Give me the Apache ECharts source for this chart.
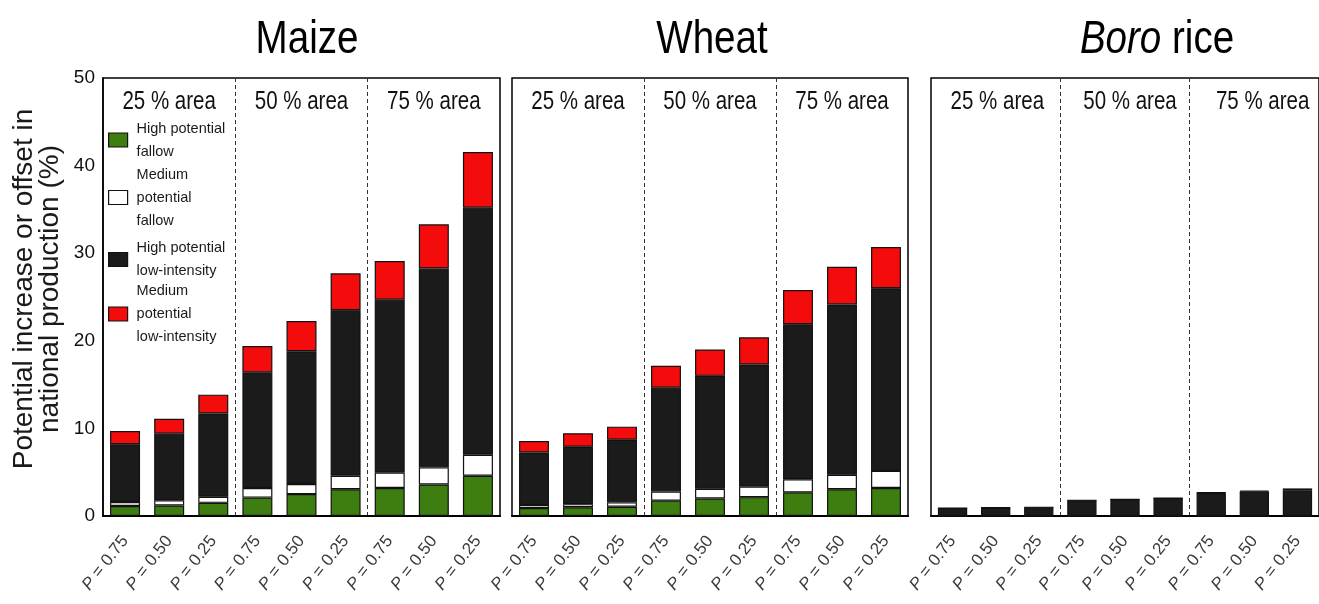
<!DOCTYPE html>
<html>
<head>
<meta charset="utf-8">
<script src="https://cdn.jsdelivr.net/npm/echarts@6/dist/echarts.min.js"></script>
<style>
  html, body { margin: 0; padding: 0; background: #fff; }
  #chart { width: 1319px; height: 604px; }
</style>
</head>
<body>
<div id="chart"></div>
<script>
// ---- data ----
const crops = ['Maize', 'Wheat', 'Boro rice'];
const areaLabels = ['25 % area', '50 % area', '75 % area'];
const pLabels = ['P = 0.75', 'P = 0.50', 'P = 0.25',
                 'P = 0.75', 'P = 0.50', 'P = 0.25',
                 'P = 0.75', 'P = 0.50', 'P = 0.25'];
const layerNames = [
  'High potential\nfallow',
  'Medium\npotential\nfallow',
  'High potential\nlow-intensity',
  'Medium\npotential\nlow-intensity'
];
const yMin = 0, yMax = 50, yStep = 10;

// contribution of each land class (% of national production)
const maizeHighFallow        = [1.15, 1.2, 1.5, 2.1, 2.5, 3.05, 3.2, 3.6, 4.6];
const maizeMediumFallow      = [0.45, 0.6, 0.7, 1.1, 1.15, 1.55, 1.75, 1.95, 2.4];
const maizeHighLowIntensity  = [6.6, 7.6, 9.5, 13.2, 15.15, 18.9, 19.75, 22.7, 28.2];
const maizeMediumLowIntensity= [1.5, 1.7, 2.15, 3.0, 3.45, 4.2, 4.4, 5.05, 6.35];

const wheatHighFallow        = [0.9, 1.0, 1.05, 1.75, 2.0, 2.15, 2.7, 3.05, 3.2];
const wheatMediumFallow      = [0.35, 0.35, 0.5, 1.05, 1.1, 1.2, 1.5, 1.65, 1.95];
const wheatHighLowIntensity  = [6.0, 6.55, 7.15, 11.85, 12.9, 13.95, 17.7, 19.45, 20.85];
const wheatMediumLowIntensity= [1.3, 1.55, 1.5, 2.5, 3.0, 3.1, 3.9, 4.3, 4.7];

const boroHighFallow         = [0, 0, 0, 0, 0, 0, 0, 0, 0];
const boroMediumFallow       = [0, 0, 0, 0, 0, 0, 0, 0, 0];
const boroHighLowIntensity   = [0.9, 0.95, 1.0, 1.8, 1.9, 2.05, 2.65, 2.8, 2.95];
const boroMediumLowIntensity = [0, 0, 0, 0, 0, 0, 0.05, 0.1, 0.2];

const cropLayers = [
  [maizeHighFallow, maizeMediumFallow, maizeHighLowIntensity, maizeMediumLowIntensity],
  [wheatHighFallow, wheatMediumFallow, wheatHighLowIntensity, wheatMediumLowIntensity],
  [boroHighFallow, boroMediumFallow, boroHighLowIntensity, boroMediumLowIntensity]
];

// ---- styling ----
const SANS = '"Liberation Sans", Arial, Helvetica, sans-serif';
const CONDENSE = 0.82;   // horizontal squeeze for the narrow-looking headings
const layerColors = ['#3e7d10', '#ffffff', '#1b1b1b', '#f40c0c'];

const panels = [
  { left: 103, top: 78, width: 397, height: 438 },
  { left: 512, top: 78, width: 396, height: 438 },
  { left: 931, top: 78, width: 398, height: 438 }
];

const grid = panels.map(p => ({
  left: p.left, top: p.top, width: p.width, height: p.height,
  show: true, borderColor: '#000', borderWidth: 1.5, backgroundColor: 'transparent',
  containLabel: false
}));

const xAxis = [];
panels.forEach((p, i) => {
  xAxis.push({
    type: 'category', gridIndex: i, data: pLabels, position: 'bottom',
    axisLine: { show: true, lineStyle: { color: '#000', width: 2 } },
    axisTick: { show: false },
    splitLine: { show: false },
    axisLabel: {
      interval: 0, rotate: 52, margin: 22,
      fontSize: 17, fontFamily: SANS, color: '#3a3a3a',
      formatter: v => '{i|P}' + v.slice(1),
      rich: { i: { fontStyle: 'italic', fontSize: 17, fontFamily: SANS, color: '#3a3a3a' } }
    }
  });
});
// top category axes split each panel into the three area shares
panels.forEach((p, i) => {
  xAxis.push({
    type: 'category', gridIndex: i, data: areaLabels, position: 'top',
    axisLine: { show: false },
    axisTick: { show: false },
    axisLabel: { show: false },
    splitLine: {
      show: true, showMinLine: false, showMaxLine: false,
      lineStyle: { color: '#333', width: 1, type: [4, 3] }
    }
  });
});

const yAxis = panels.map((p, i) => ({
  type: 'value', gridIndex: i, min: yMin, max: yMax, interval: yStep,
  axisLine: { show: i === 0, lineStyle: { color: '#000', width: 1.5 } },
  axisTick: { show: false },
  splitLine: { show: false },
  axisLabel: { show: i === 0, margin: 8, fontSize: 19, fontFamily: SANS, color: '#111' },
  name: i === 0 ? 'Potential increase or offset in\nnational production (%)' : '',
  nameLocation: 'middle', nameGap: 40, nameRotate: 90,
  nameTextStyle: {
    fontSize: 28, lineHeight: 26, fontFamily: SANS, color: '#1a1a1a',
    padding: [0, 0, 0, 16]
  }
}));

const series = [];
cropLayers.forEach((layers, ci) => {
  layers.forEach((vals, li) => {
    series.push({
      type: 'bar', name: layerNames[li],
      xAxisIndex: ci, yAxisIndex: ci, stack: 'crop' + ci,
      barWidth: '68%',
      data: vals,
      itemStyle: { color: layerColors[li], borderColor: '#111', borderWidth: 1.2 },
      emphasis: { disabled: true }
    });
  });
});

// one legend block per class so each can sit at its own height
const legendCenters = [140, 197.5, 259.5, 314];
const LINE = 23;
const legend = layerNames.map((name, k) => {
  const n = name.split('\n').length;
  return {
    data: [name], orient: 'vertical', left: 108,
    top: legendCenters[k] - (2 * n - 1) * LINE / 2,
    padding: 0, itemWidth: 19, itemHeight: 14, itemGap: 0,
    icon: 'rect', selectedMode: false,
    itemStyle: { borderColor: '#111', borderWidth: 1.2 },
    textStyle: {
      fontSize: 14.5, lineHeight: LINE, fontFamily: SANS, color: '#1a1a1a',
      padding: [(n - 1) * LINE, 0, 0, 4]
    }
  };
});

// panel headings and the area-share captions
const titleCenters = [307, 712, 1157];
const graphic = [];
crops.forEach((c, i) => {
  graphic.push({
    type: 'text', x: titleCenters[i], y: 40, scaleX: CONDENSE,
    style: {
      text: c === 'Boro rice' ? '{i|Boro} rice' : c,
      fontSize: 47, fontFamily: SANS, fill: '#000',
      align: 'center', verticalAlign: 'middle',
      rich: {
        i: { fontSize: 47, fontFamily: SANS, fontStyle: 'italic', fill: '#000' }
      }
    }
  });
});
panels.forEach(p => {
  areaLabels.forEach((a, k) => {
    graphic.push({
      type: 'text', x: p.left + p.width * (2 * k + 1) / 6, y: 102, scaleX: CONDENSE,
      style: {
        text: a, fontSize: 25, fontFamily: SANS, fill: '#111',
        align: 'center', verticalAlign: 'middle'
      }
    });
  });
});

const chart = echarts.init(document.getElementById('chart'), null, { renderer: 'canvas' });
chart.setOption({
  animation: false,
  backgroundColor: '#fff',
  grid, xAxis, yAxis, series, legend, graphic
});
</script>
</body>
</html>
